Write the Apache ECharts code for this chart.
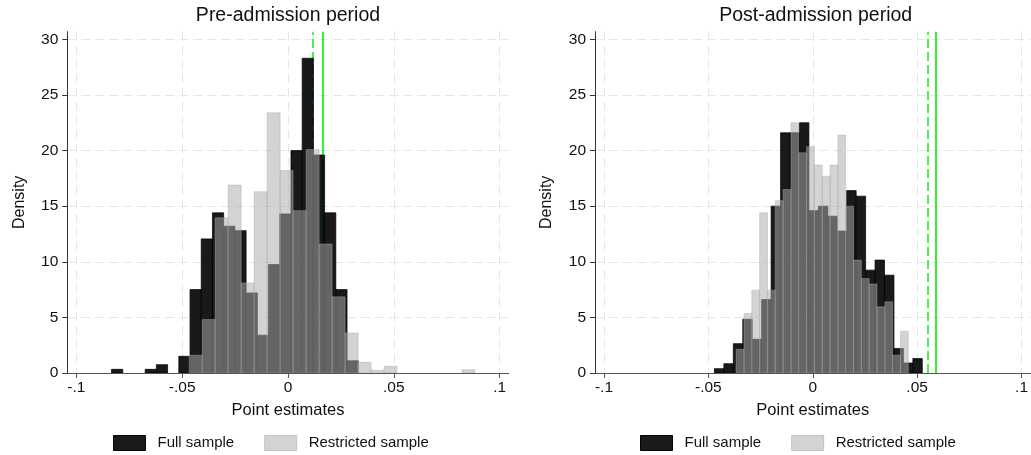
<!DOCTYPE html>
<html>
<head>
<meta charset="utf-8">
<script src="https://cdn.jsdelivr.net/npm/echarts@6/dist/echarts.min.js"></script>
<style>
  html, body { margin: 0; padding: 0; background: #ffffff; }
  #chart { width: 1031px; height: 455px; }
</style>
</head>
<body>
<div id="chart"></div>
<script>
// Axis ticks and labels
const xTicks = [-0.1, -0.05, 0, 0.05, 0.1];
const xTickLabels = ['-.1', '-.05', '0', '.05', '.1'];
const yTicks = [0, 5, 10, 15, 20, 25, 30];
const panelTitles = ['Pre-admission period', 'Post-admission period'];
const seriesNames = ['Full sample', 'Restricted sample'];

// Pre-admission histograms: first bin edge, bin width, density per bin
const preFullStart = -0.0834;
const preFullWidth = 0.0053;
const preFull = [0.33, 0, 0, 0.33, 0.75, 0, 1.5, 7.5, 12.06, 14.4, 13.2, 12.8, 7.2, 3.4, 9.75, 14.3, 20.0, 28.3, 19.6, 14.4, 7.5, 1.1];
const preRestStart = -0.0467;
const preRestWidth = 0.00614;
const preRest = [1.6, 4.8, 13.95, 16.9, 8.1, 16.3, 23.4, 18.2, 14.6, 20.1, 11.6, 6.85, 3.6, 0.96, 0.24, 0.6, 0, 0, 0, 0, 0, 0.3];

// Post-admission histograms
const postFullStart = -0.0471;
const postFullWidth = 0.004526;
const postFull = [0.39, 0.84, 2.64, 4.83, 3.03, 6.6, 15.0, 21.6, 21.6, 22.5, 14.6, 15.0, 14.1, 12.76, 16.4, 15.9, 9.25, 10.15, 8.8, 2.2, 0.9, 1.3];
const postRestStart = -0.0367;
const postRestWidth = 0.003748;
const postRest = [2.13, 5.35, 7.45, 14.4, 7.45, 15.5, 16.5, 22.5, 19.8, 20.35, 18.7, 17.7, 18.7, 21.4, 15.0, 10.15, 8.5, 8.0, 5.95, 6.4, 1.6, 3.75];

// Reference estimates (dashed, solid)
const preRefLines = [0.0117, 0.0164];
const postRefLines = [0.0553, 0.0589];

const FONT = 'Liberation Sans, Arial, Helvetica, sans-serif';
const TEXT = '#111111';
const X_MIN = -0.1043, X_MAX = 0.1043;
const Y_MIN = 0, Y_MAX = 30.69;

const fullStyle = { fill: 'rgba(0,0,0,0.9)', stroke: 'rgba(0,0,0,0.9)', lineWidth: 0.8 };
const restStyle = { fill: 'rgba(171,171,171,0.524)', stroke: 'rgba(171,171,171,0.524)', lineWidth: 0.8 };

function toBins(start, width, heights) {
  return heights.map((h, i) => [start + i * width, start + (i + 1) * width, h]);
}

function histRenderer(style) {
  return function (params, api) {
    const h = api.value(2);
    if (!h) return null;
    const topLeft = api.coord([api.value(0), h]);
    const bottomRight = api.coord([api.value(1), 0]);
    return {
      type: 'rect',
      shape: {
        x: topLeft[0],
        y: topLeft[1],
        width: bottomRight[0] - topLeft[0],
        height: bottomRight[1] - topLeft[1]
      },
      style: style
    };
  };
}

function xLabel(v) {
  const i = xTicks.findIndex(t => Math.abs(t - v) < 1e-9);
  return i >= 0 ? xTickLabels[i] : '';
}

const plotLefts = [67.3, 595];
const plotWidth = 441.4;
const plotTop = 31.7;
const plotHeight = 341.3;

const grids = plotLefts.map(l => ({ left: l, top: plotTop, width: plotWidth, height: plotHeight, containLabel: false }));

const xAxes = [0, 1].map(i => ({
  type: 'value',
  gridIndex: i,
  min: X_MIN,
  max: X_MAX,
  name: 'Point estimates',
  nameLocation: 'middle',
  nameGap: 29,
  nameTextStyle: { fontSize: 16.5, color: TEXT, fontFamily: FONT },
  axisLine: { show: true, onZero: false, lineStyle: { color: '#555555', width: 1 } },
  axisTick: { show: true, length: 5, customValues: xTicks, lineStyle: { color: '#555555', width: 1 } },
  axisLabel: { customValues: xTicks, formatter: xLabel, fontSize: 15.5, color: TEXT, fontFamily: FONT, margin: 7 },
  splitLine: { show: true, lineStyle: { color: '#e6e6e6', width: 1, type: [9, 5] } }
}));

const yAxes = [0, 1].map(i => ({
  type: 'value',
  gridIndex: i,
  min: Y_MIN,
  max: Y_MAX,
  name: 'Density',
  nameLocation: 'middle',
  nameGap: 40,
  nameRotate: 90,
  nameTextStyle: { fontSize: 16, color: TEXT, fontFamily: FONT },
  axisLine: { show: true, onZero: false, lineStyle: { color: '#333333', width: 1 } },
  axisTick: { show: true, length: 5, customValues: yTicks, lineStyle: { color: '#333333', width: 1 } },
  axisLabel: { customValues: yTicks, fontSize: 15.5, color: TEXT, fontFamily: FONT, margin: 9 },
  splitLine: { show: true, lineStyle: { color: '#e6e6e6', width: 1, type: [9, 5] } }
}));

const panels = [
  { full: toBins(preFullStart, preFullWidth, preFull), rest: toBins(preRestStart, preRestWidth, preRest), refs: preRefLines },
  { full: toBins(postFullStart, postFullWidth, postFull), rest: toBins(postRestStart, postRestWidth, postRest), refs: postRefLines }
];

const series = [];
panels.forEach((p, i) => {
  series.push({
    type: 'line',
    name: 'ref' + i,
    xAxisIndex: i,
    yAxisIndex: i,
    data: [],
    silent: true,
    z: 1,
    markLine: {
      silent: true,
      z: 1,
      precision: 6,
      symbol: ['none', 'none'],
      label: { show: false },
      lineStyle: { color: '#00ee00', width: 1.6 },
      emphasis: { disabled: true },
      data: [
        { xAxis: p.refs[0], lineStyle: { type: [9, 4], color: '#22ee22', width: 1.6 } },
        { xAxis: p.refs[1], lineStyle: { type: 'solid', color: '#00ee00', width: 1.6 } }
      ]
    }
  });
  series.push({
    type: 'custom',
    name: seriesNames[0],
    xAxisIndex: i,
    yAxisIndex: i,
    z: 3,
    clip: true,
    itemStyle: { color: '#1a1a1a' },
    encode: { x: [0, 1], y: 2 },
    renderItem: histRenderer(fullStyle),
    data: p.full
  });
  series.push({
    type: 'custom',
    name: seriesNames[1],
    xAxisIndex: i,
    yAxisIndex: i,
    z: 4,
    clip: true,
    itemStyle: { color: '#d3d3d3' },
    encode: { x: [0, 1], y: 2 },
    renderItem: histRenderer(restStyle),
    data: p.rest
  });
});

const legendData = [
  { name: seriesNames[0], icon: 'rect', itemStyle: { color: '#1a1a1a', borderColor: '#050505', borderWidth: 1 } },
  { name: seriesNames[1], icon: 'rect', itemStyle: { color: '#d3d3d3', borderColor: '#c2c2c2', borderWidth: 1 } }
];
const legends = [113, 640].map(l => ({
  left: l,
  top: 435,
  orient: 'horizontal',
  padding: 0,
  itemWidth: 32,
  itemHeight: 15,
  itemGap: 30,
  selectedMode: false,
  textStyle: { fontSize: 15, color: TEXT, fontFamily: FONT, padding: [0, 0, 0, 7] },
  data: legendData
}));

const titles = panelTitles.map((t, i) => ({
  type: 'text',
  x: plotLefts[i] + plotWidth / 2,
  y: 16,
  style: { text: t, font: '19.5px ' + FONT, fill: TEXT, align: 'center', verticalAlign: 'middle' }
}));

const chart = echarts.init(document.getElementById('chart'), null, { renderer: 'canvas' });
chart.setOption({
  animation: false,
  backgroundColor: '#ffffff',
  textStyle: { fontFamily: FONT },
  grid: grids,
  xAxis: xAxes,
  yAxis: yAxes,
  legend: legends,
  graphic: titles,
  tooltip: { show: false },
  series: series
});
</script>
</body>
</html>
